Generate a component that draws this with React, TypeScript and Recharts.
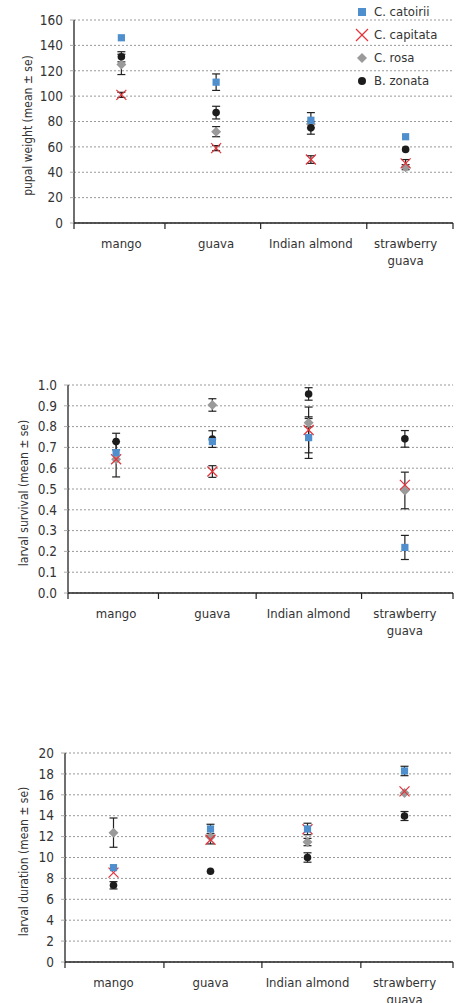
import { ScatterChart, Scatter, XAxis, YAxis, CartesianGrid, ErrorBar, Legend } from "recharts";

const FONT = "'Liberation Sans Narrow', 'DejaVu Sans Condensed', 'Roboto', sans-serif";

// host fruits (x categories)
const hostLines = [["mango"], ["guava"], ["Indian almond"], ["strawberry", "guava"]];
const hostPos = [0.5, 1.5, 2.5, 3.5];

// pupal weight (mean, se)
const pupalCatoirii = [146, 111, 81, 68];
const pupalCatoiriiSe = [null, 6.5, 6, null];
const pupalCapitata = [101, 59, 50, 47];
const pupalCapitataSe = [2, 2, 3, 3];
const pupalRosa = [125, 72, 78, 44];
const pupalRosaSe = [8, 4, null, 2];
const pupalZonata = [131, 87, 75, 58];
const pupalZonataSe = [4, 5, 5, null];

// larval survival (mean, se)
const survCatoirii = [0.675, 0.728, 0.747, 0.219];
const survCatoiriiSe = [null, null, 0.1, 0.058];
const survCapitata = [0.643, 0.584, 0.784, 0.52];
const survCapitataSe = [null, 0.028, 0.11, null];
const survRosa = [0.643, 0.904, 0.819, 0.493];
const survRosaSe = [0.085, 0.03, 0.02, 0.088];
const survZonata = [0.728, 0.74, 0.957, 0.741];
const survZonataSe = [0.04, 0.04, 0.03, 0.04];

// larval duration (mean, se)
const durCatoirii = [9.03, 12.73, 12.73, 18.28];
const durCatoiriiSe = [null, 0.45, 0.55, 0.45];
const durCapitata = [8.55, 11.7, 12.7, 16.33];
const durCapitataSe = [null, 0.4, null, null];
const durRosa = [12.38, 11.96, 11.48, 16.17];
const durRosaSe = [1.4, null, 0.35, null];
const durZonata = [7.34, 8.68, 10.0, 13.97];
const durZonataSe = [0.35, null, 0.45, 0.43];

const pupalTicks = [0, 20, 40, 60, 80, 100, 120, 140, 160];
const survTicks = [0, 0.1, 0.2, 0.3, 0.4, 0.5, 0.6, 0.7, 0.8, 0.9, 1.0];
const durTicks = [0, 2, 4, 6, 8, 10, 12, 14, 16, 18, 20];

const species = ["C. catoirii", "C. capitata", "C. rosa", "B. zonata"];

const BLUE = "#4f8fcd";
const RED = "#e3343c";
const GRAY = "#9a9a9a";
const BLACK = "#1c1c1c";

const Square = (p: any) => <rect x={p.cx - 3.6} y={p.cy - 3.6} width={7.2} height={7.2} fill={BLUE} />;
const Cross = (p: any) => (
  <g stroke={RED} strokeWidth={1.3}>
    <line x1={p.cx - 5} y1={p.cy - 5} x2={p.cx + 5} y2={p.cy + 5} />
    <line x1={p.cx - 5} y1={p.cy + 5} x2={p.cx + 5} y2={p.cy - 5} />
  </g>
);
const Diamond = (p: any) => (
  <polygon
    points={`${p.cx},${p.cy - 5} ${p.cx + 5},${p.cy} ${p.cx},${p.cy + 5} ${p.cx - 5},${p.cy}`}
    fill={GRAY}
  />
);
const Dot = (p: any) => <circle cx={p.cx} cy={p.cy} r={3.8} fill={BLACK} />;

const build = (vals: number[], se: (number | null)[]) =>
  hostPos.map((x, i) => ({ x, y: vals[i], err: se[i] }));

function HostTick(props: any) {
  const { x, y, payload } = props;
  const idx = hostPos.indexOf(payload.value);
  if (idx < 0) return <line x1={x} x2={x} y1={y} y2={y + 6} stroke="#222" strokeWidth={1.2} />;
  return (
    <text x={x} y={y} textAnchor="middle" fontFamily={FONT} fontSize={13} fill="#333">
      {hostLines[idx].map((l, i) => (
        <tspan key={i} x={x} dy={i === 0 ? 25 : 17}>
          {l}
        </tspan>
      ))}
    </text>
  );
}

function LegendBox() {
  const icons = [
    <rect x={6} y={6} width={8} height={8} fill={BLUE} />,
    <g stroke={RED} strokeWidth={1.3}>
      <line x1={4} y1={4} x2={16} y2={16} />
      <line x1={4} y1={16} x2={16} y2={4} />
    </g>,
    <polygon points="10,5 15,10 10,15 5,10" fill={GRAY} />,
    <circle cx={10} cy={10} r={4} fill={BLACK} />,
  ];
  return (
    <div style={{ fontFamily: FONT, fontSize: 13, color: "#333" }}>
      {species.map((s, i) => (
        <div key={s} style={{ display: "flex", alignItems: "center", height: 23 }}>
          <svg width={20} height={20}>{icons[i]}</svg>
          <span style={{ marginLeft: 2 }}>{s}</span>
        </div>
      ))}
    </div>
  );
}

interface PanelProps {
  top: number;
  height: number;
  margin: { top: number; right: number; bottom: number; left: number };
  yWidth: number;
  titleX: number;
  title: string;
  yTicks: number[];
  fmt: (v: number) => string;
  bounds: number[];
  series: { vals: number[]; se: (number | null)[] }[];
  legend?: boolean;
}

function Panel({ top, height, margin, yWidth, titleX, title, yTicks, fmt, bounds, series, legend }: PanelProps) {
  const shapes = [Square, Cross, Diamond, Dot];
  // draw order: rosa, zonata, capitata, catoirii
  const order = [2, 3, 1, 0];
  const ticks = [...bounds, ...hostPos].sort((a, b) => a - b);
  return (
    <div style={{ position: "absolute", left: 0, top, width: 460, height }}>
      <ScatterChart width={460} height={height} margin={margin}>
        <CartesianGrid horizontal vertical={false} stroke="#999" strokeDasharray="2 2" />
        <XAxis
          type="number"
          dataKey="x"
          domain={[0, 4]}
          ticks={ticks}
          interval={0}
          height={40}
          tickSize={0}
          tickMargin={0}
          tickLine={false}
          axisLine={{ stroke: "#222", strokeWidth: 1.3 }}
          tick={<HostTick />}
        />
        <YAxis
          type="number"
          dataKey="y"
          domain={[yTicks[0], yTicks[yTicks.length - 1]]}
          ticks={yTicks}
          interval={0}
          width={yWidth}
          tickFormatter={fmt}
          tickSize={4}
          tickMargin={7}
          tickLine={{ stroke: "#aaa" }}
          axisLine={{ stroke: "#222", strokeWidth: 1.3 }}
          tick={{ fontFamily: FONT, fontSize: 13.5, fill: "#333" }}
          label={(p: any) => {
            const vb = p.viewBox;
            const cy = vb.y + vb.height / 2 + 4;
            return (
              <text
                x={titleX}
                y={cy}
                transform={`rotate(-90, ${titleX}, ${cy})`}
                textAnchor="middle"
                dominantBaseline="central"
                fontFamily={FONT}
                fontSize={12}
                fill="#333"
              >
                {title}
              </text>
            );
          }}
        />
        {legend && (
          <Legend
            layout="vertical"
            align="center"
            verticalAlign="middle"
            wrapperStyle={{ top: 0, left: 352, width: 110 }}
            content={<LegendBox />}
          />
        )}
        {order.map((k) => (
          <Scatter
            key={k}
            name={species[k]}
            data={build(series[k].vals, series[k].se)}
            shape={shapes[k]}
            isAnimationActive={false}
          >
            <ErrorBar dataKey="err" direction="y" width={4} stroke="#222" strokeWidth={1.2} />
          </Scatter>
        ))}
      </ScatterChart>
    </div>
  );
}

export default function App() {
  return (
    <div style={{ position: "absolute", left: 0, top: 0, width: 460, height: 1003, background: "#fff", overflow: "hidden" }}>
      <Panel
        top={0}
        height={300}
        margin={{ top: 20, right: 7, bottom: 37, left: 0 }}
        yWidth={74}
        titleX={28}
        title="pupal weight (mean ± se)"
        yTicks={pupalTicks}
        fmt={(v) => String(v)}
        bounds={[0, 0.96, 1.97, 3.09, 4]}
        legend
        series={[
          { vals: pupalCatoirii, se: pupalCatoiriiSe },
          { vals: pupalCapitata, se: pupalCapitataSe },
          { vals: pupalRosa, se: pupalRosaSe },
          { vals: pupalZonata, se: pupalZonataSe },
        ]}
      />
      <Panel
        top={360}
        height={300}
        margin={{ top: 25, right: 7, bottom: 27, left: 0 }}
        yWidth={68}
        titleX={24}
        title="larval survival (mean ± se)"
        yTicks={survTicks}
        fmt={(v) => v.toFixed(1)}
        bounds={[0, 0.94, 1.955, 3.05, 4]}
        series={[
          { vals: survCatoirii, se: survCatoiriiSe },
          { vals: survCapitata, se: survCapitataSe },
          { vals: survRosa, se: survRosaSe },
          { vals: survZonata, se: survZonataSe },
        ]}
      />
      <Panel
        top={730}
        height={273}
        margin={{ top: 23, right: 7, bottom: 1, left: 0 }}
        yWidth={65}
        titleX={24}
        title="larval duration (mean ± se)"
        yTicks={durTicks}
        fmt={(v) => String(v)}
        bounds={[0, 1.02, 2.03, 3.05, 4]}
        series={[
          { vals: durCatoirii, se: durCatoiriiSe },
          { vals: durCapitata, se: durCapitataSe },
          { vals: durRosa, se: durRosaSe },
          { vals: durZonata, se: durZonataSe },
        ]}
      />
    </div>
  );
}
